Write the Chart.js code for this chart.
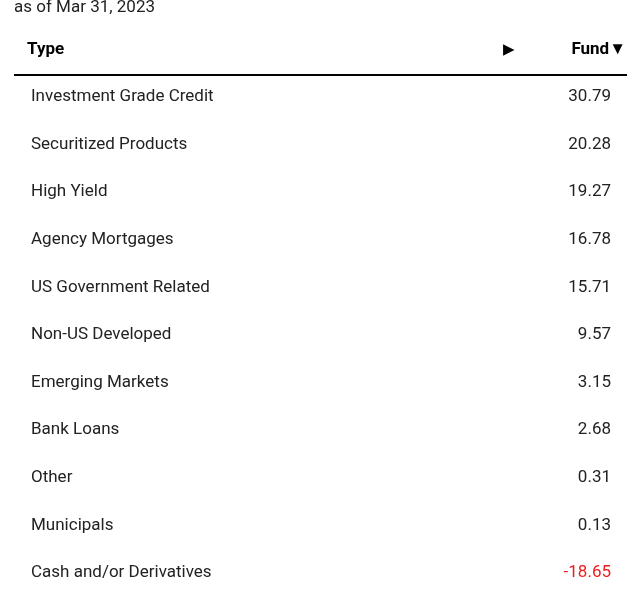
<!DOCTYPE html>
<html><head><meta charset="utf-8">
<script src="https://cdn.jsdelivr.net/npm/chart.js@4"></script>
<style>html,body{margin:0;padding:0;background:#fff;overflow:hidden}canvas{display:block}</style>
</head><body>
<canvas id="c" width="627" height="590" style="width:627px;height:590px"></canvas>
<script>
const categories = ["Investment Grade Credit","Securitized Products","High Yield","Agency Mortgages","US Government Related","Non-US Developed","Emerging Markets","Bank Loans","Other","Municipals","Cash and/or Derivatives"];
const fundValues = [30.79,20.28,19.27,16.78,15.71,9.57,3.15,2.68,0.31,0.13,-18.65];
const asOfLabel = "as of Mar 31, 2023";
const colHeaders = ["Type","Fund"];
const FONT = "Roboto, 'Liberation Sans', sans-serif";

const tablePlugin = {
  id: 'tablePlugin',
  afterDraw(chart) {
    const ctx = chart.ctx, y = chart.scales.y;
    ctx.save();
    ctx.textBaseline = 'middle';
    ctx.fillStyle = '#222';
    ctx.font = '17px ' + FONT;
    ctx.textAlign = 'left';
    ctx.fillText(asOfLabel, 14, 8);
    ctx.fillStyle = '#000';
    ctx.font = 'bold 17px ' + FONT;
    ctx.fillText(colHeaders[0], 27, 50);
    ctx.font = '15px ' + FONT;
    ctx.fillText('\u25B6', 503, 50);
    ctx.font = 'bold 17px ' + FONT;
    ctx.textAlign = 'right';
    ctx.fillText(colHeaders[1] + '\u25BC', 626, 50);
    ctx.strokeStyle = '#000'; ctx.lineWidth = 2;
    ctx.beginPath(); ctx.moveTo(14, 75); ctx.lineTo(627, 75); ctx.stroke();
    ctx.font = '17px ' + FONT;
    categories.forEach((c, i) => {
      const py = y.getPixelForValue(i);
      ctx.textAlign = 'left'; ctx.fillStyle = '#222';
      ctx.fillText(c, 31, py);
      const v = fundValues[i];
      ctx.textAlign = 'right'; ctx.fillStyle = v < 0 ? '#ee1c1c' : '#222';
      ctx.fillText(v.toFixed(2), 611, py);
    });
    ctx.restore();
  }
};

new Chart(document.getElementById('c'), {
  type: 'bar',
  data: { labels: categories, datasets: [{ data: fundValues, backgroundColor: 'rgba(0,0,0,0)', borderWidth: 0 }] },
  options: {
    indexAxis: 'y', responsive: false, animation: false,
    layout: { padding: { top: 97, bottom: 17, left: 0, right: 0 } },
    plugins: { legend: { display: false }, tooltip: { enabled: false } },
    scales: {
      y: { type: 'category', offset: false, display: false },
      x: { display: false, min: -20, max: 35 }
    }
  },
  plugins: [tablePlugin]
});
</script>
</body></html>
